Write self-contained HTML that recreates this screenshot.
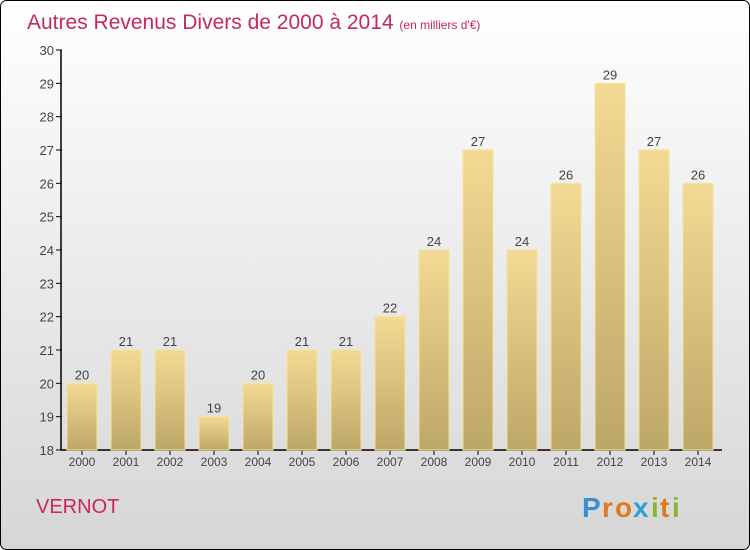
<!DOCTYPE html>
<html><head><meta charset="utf-8"><style>
body{margin:0;}
#c{width:750px;height:550px;position:relative;overflow:hidden;}
svg text{font-family:"Liberation Sans",sans-serif;}
</style></head><body>
<div id="c">
<svg id="s" width="750" height="550" xmlns="http://www.w3.org/2000/svg">
<defs>
<linearGradient id="bg" x1="0" y1="0" x2="0" y2="1"><stop offset="0" stop-color="#ffffff"/><stop offset="1" stop-color="#d6d6d6"/></linearGradient>
<linearGradient id="bar" x1="0" y1="0" x2="0" y2="1"><stop offset="0" stop-color="#f3da94"/><stop offset="1" stop-color="#bda768"/></linearGradient>
</defs>
<rect x="0.5" y="0.5" width="749" height="549" rx="6" fill="url(#bg)" stroke="#000"/>
<text x="27" y="29" font-size="21" fill="#c8285a">Autres Revenus Divers de 2000 à 2014 <tspan font-size="12">(en milliers d'€)</tspan></text>
<text x="36" y="513" font-size="20" fill="#c8285a">VERNOT</text>
<g font-size="28" font-weight="bold">
<text x="582" y="517" fill="#3a8fd0">P</text><text x="602" y="517" fill="#e07a20">r</text><text x="615" y="517" fill="#e07a20">o</text><text x="633" y="517" fill="#2c9fd8">x</text><text x="651" y="517" fill="#88b830">i</text><text x="660" y="517" fill="#e07a20">t</text><text x="672" y="517" fill="#88b830">i</text>
</g>
<g id="axes"></g>
<g id="bars"></g>
</svg>
</div>
<script>
const years=["2000","2001","2002","2003","2004","2005","2006","2007","2008","2009","2010","2011","2012","2013","2014"];
const values=[20,21,21,19,20,21,21,22,24,27,24,26,29,27,26];
const yTicks=[18,19,20,21,22,23,24,25,26,27,28,29,30];
const NS="http://www.w3.org/2000/svg";
const y=v=>450-(v-18)*(400/12);
const x=i=>82+i*44;
function el(t,a,p){const e=document.createElementNS(NS,t);for(const k in a)e.setAttribute(k,a[k]);p.appendChild(e);return e;}
const ax=document.getElementById('axes'),bg=document.getElementById('bars');
yTicks.forEach(t=>{
 const l=el('line',{x1:56,x2:62,y1:y(t),y2:y(t),stroke:'#000'},ax);
 
 
 const tx=el('text',{x:54,y:y(t)+5,'text-anchor':'end','font-size':13,fill:'#444'},ax);
 tx.textContent=t;
 
 
});
values.forEach((v,i)=>{
 const r=el('rect',{x:x(i)-15,y:y(v),width:30,height:450-y(v),fill:'url(#bar)',stroke:'#f6e49a','stroke-width':1},bg);
 
 
 const lb=el('text',{x:x(i),y:y(v)-4,'text-anchor':'middle','font-size':13,fill:'#444'},bg);
 lb.textContent=v;
 
 
 const tk=el('line',{x1:x(i),x2:x(i),y1:450,y2:455,stroke:'#000'},ax);
 
 
 const xl=el('text',{x:x(i),y:466,'text-anchor':'middle','font-size':12,fill:'#444'},ax);
 xl.textContent=years[i];
 
 
});
const ya=el('line',{x1:61,x2:61,y1:50,y2:450,stroke:'#000','stroke-width':1.5},ax);


const xa=el('line',{x1:61,x2:722,y1:450,y2:450,stroke:'#000','stroke-width':1.5},ax);


</script>
</body></html>
